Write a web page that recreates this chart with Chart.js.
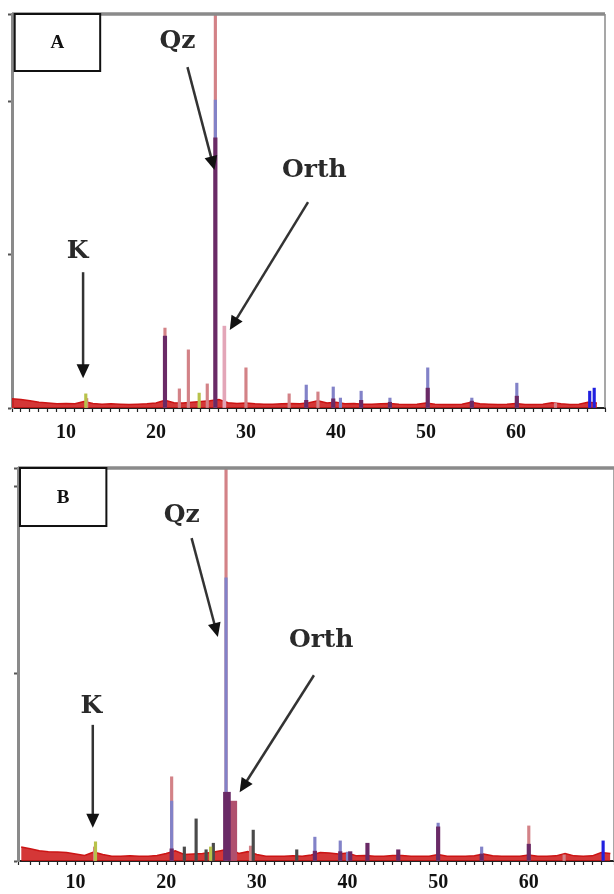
<!DOCTYPE html>
<html>
<head>
<meta charset="utf-8">
<script src="https://cdn.jsdelivr.net/npm/chart.js@4.4.0/dist/chart.umd.min.js"></script>
<style>
body{margin:0;background:#fff;overflow:hidden;width:614px;height:894px;position:relative}
.panel{position:absolute;left:0}
#boxA{top:0}
#boxB{top:450px}
</style>
</head>
<body>
<div class="panel" id="boxA"><canvas id="chartA" width="614" height="445"></canvas></div>
<div class="panel" id="boxB"><canvas id="chartB" width="620" height="444"></canvas></div>
<script>
// ---- panel A : 2-theta (deg) vs intensity ----
var aRedX    = [12.3, 21.0, 22.6, 23.6, 25.7, 26.6, 30.0, 34.8, 38.0, 64.4];
var aRedY    = [2.5, 20.9, 5.0, 15.2, 6.3, 130, 10.5, 3.7, 4.2, 1.2];
var aBlueX   = [26.6, 36.7, 39.7, 40.5, 42.8, 46.0, 50.2, 55.1, 60.1, 68.2, 68.7];
var aBlueY   = [80.5, 6.0, 5.5, 2.6, 4.4, 2.6, 10.5, 2.6, 6.5, 4.4, 5.2];
var aPurpleX = [21.0, 26.6, 36.7, 39.7, 42.8, 46.0, 50.2, 55.1, 60.1];
var aPurpleY = [18.8, 70.6, 2.0, 2.4, 2.0, 1.5, 5.2, 1.8, 3.1];
var aPinkX   = [27.6];
var aPinkY   = [21.4];
var aYellowX = [12.2, 24.8];
var aYellowY = [3.7, 3.9];
var baseX    = [4,5,6,7,8,9,10,11,12,13,14,15,16,17,18,19,20,21,22,23,24,25,26,27,28,29,30,31,32,33,34,35,36,
                37,38,39,40,41,42,43,44,45,46,47,48,49,50,51,52,53,54,55,56,57,58,59,60,61,62,63,64,65,66,67,68,69];
var aBaseY   = [2.4,2.2,1.9,1.5,1.3,1.1,1.2,1.1,1.7,1.2,1.0,1.1,1.0,0.9,1.0,1.1,1.3,2.0,1.4,1.3,1.5,1.7,1.9,2.2,1.4,1.2,1.3,1.1,1.0,1.0,1.1,1.2,1.1,
                1.4,1.9,1.3,1.5,1.1,1.2,1.0,1.0,1.1,1.2,1.0,0.9,1.0,1.3,1.0,0.9,0.9,1.0,1.5,1.1,1.0,0.9,1.0,1.2,0.9,0.9,1.0,1.4,1.1,0.9,1.0,1.5,1.3];

// ---- panel B ----
var bRedX    = [12.1, 20.6, 26.6, 29.3, 60.0, 63.9];
var bRedY    = [3.0, 18.0, 130, 3.2, 7.5, 1.3];
var bBlueX   = [20.6, 26.6, 36.4, 39.2, 40.0, 50.0, 54.8, 68.2];
var bBlueY   = [12.8, 60.5, 5.1, 4.3, 1.9, 8.1, 3.0, 4.3];
var bPurpleX = [20.6, 36.4, 39.2, 40.3, 42.2, 45.6, 50.0, 54.8, 60.0];
var bPurpleY = [2.6, 2.1, 2.0, 2.0, 3.8, 2.4, 7.3, 1.5, 3.6];
var bQzFootX = [26.7];
var bQzFootY = [14.7];
var bOrthX   = [27.4];
var bOrthY   = [12.8];
var bGrayX   = [22.0, 23.3, 24.4, 25.2, 29.6, 34.4];
var bGrayY   = [3.0, 9.0, 2.4, 3.8, 6.6, 2.4];
var bYellowX = [12.2, 24.9];
var bYellowY = [4.1, 3.0];
var bBaseY   = [3.0,2.6,2.2,2.0,1.9,1.8,1.5,1.2,1.9,1.4,1.0,1.0,1.1,1.0,1.0,1.2,1.6,2.2,1.4,1.5,1.6,1.8,2.2,2.6,1.6,2.0,1.4,1.0,1.0,1.0,1.1,1.0,1.3,
                1.8,1.7,1.5,1.7,1.1,1.2,1.0,1.0,1.2,1.2,1.0,1.0,1.0,1.4,1.0,1.0,1.0,1.1,1.5,1.1,1.0,1.0,1.0,1.3,1.0,1.0,1.1,1.6,1.1,1.0,1.1,1.8,1.6];

function pts(xs, ys) {
  return xs.map(function (x, i) { return {x: x, y: ys[i]}; });
}

function peaks(label, xs, ys, color, thick, order) {
  return {type: 'bar', label: label, data: pts(xs, ys), backgroundColor: color,
          barThickness: thick, grouped: false, borderWidth: 0, order: order};
}

function baseline(ys) {
  return {type: 'line', label: 'pattern', data: pts(baseX, ys), borderColor: '#cc1414', borderWidth: 1.5,
          backgroundColor: 'rgba(204,20,20,0.85)', fill: 'origin', pointRadius: 0, tension: 0, order: 9};
}

function deepBlue(ctx) {
  return ctx.raw && ctx.raw.x > 67 ? '#2020e0' : '#8282c8';
}

var notesPlugin = {
  id: 'notes',
  afterDraw: function (chart, args, o) {
    var ctx = chart.ctx, sx = chart.scales.x, sy = chart.scales.y, ca = chart.chartArea;
    function px(v) { return sx.getPixelForValue(v); }
    function py(v) { return sy.getPixelForValue(v); }
    ctx.save();
    // top / right frame
    ctx.strokeStyle = '#8a8a8a';
    ctx.lineWidth = 3.5;
    ctx.beginPath(); ctx.moveTo(ca.left, ca.top); ctx.lineTo(ca.right, ca.top); ctx.stroke();
    ctx.lineWidth = 1.5;
    ctx.beginPath(); ctx.moveTo(ca.right, ca.top); ctx.lineTo(ca.right, ca.bottom); ctx.stroke();

    // panel letter box
    var b = o.box;
    var x0 = px(b.x0), x1 = px(b.x1), y0 = py(b.y1), y1 = py(b.y0);
    ctx.fillStyle = '#fff';
    ctx.fillRect(x0, y0, x1 - x0, y1 - y0);
    ctx.strokeStyle = '#111';
    ctx.lineWidth = 2;
    ctx.strokeRect(x0, y0, x1 - x0, y1 - y0);
    ctx.fillStyle = '#111';
    ctx.font = 'bold 19px "Liberation Serif"';
    ctx.textAlign = 'center';
    ctx.textBaseline = 'middle';
    ctx.fillText(b.text, (x0 + x1) / 2, (y0 + y1) / 2 + 1);

    // labels + arrows
    ctx.font = 'bold 25px "DejaVu Serif"';
    ctx.fillStyle = '#2a2a2a';
    o.labels.forEach(function (l) {
      ctx.fillText(l.text, px(l.x), py(l.y));
      var ax = px(l.from[0]), ay = py(l.from[1]), bx = px(l.to[0]), by = py(l.to[1]);
      var ang = Math.atan2(by - ay, bx - ax);
      ctx.strokeStyle = '#333';
      ctx.lineWidth = 2.5;
      ctx.beginPath(); ctx.moveTo(ax, ay);
      ctx.lineTo(bx - 10 * Math.cos(ang), by - 10 * Math.sin(ang)); ctx.stroke();
      ctx.fillStyle = '#111';
      ctx.beginPath();
      ctx.moveTo(bx, by);
      ctx.lineTo(bx - 14 * Math.cos(ang) + 6.5 * Math.sin(ang), by - 14 * Math.sin(ang) - 6.5 * Math.cos(ang));
      ctx.lineTo(bx - 14 * Math.cos(ang) - 6.5 * Math.sin(ang), by - 14 * Math.sin(ang) + 6.5 * Math.cos(ang));
      ctx.closePath(); ctx.fill();
      ctx.fillStyle = '#2a2a2a';
    });
    ctx.restore();
  }
};

function makeChart(id, datasets, xmin, xmax, ymax, pad, axisH, tickPad, notes) {
  return new Chart(document.getElementById(id), {
    type: 'bar',
    data: {datasets: datasets},
    options: {
      responsive: false,
      animation: false,
      layout: {padding: pad},
      plugins: {legend: {display: false}, tooltip: {enabled: false}, notes: notes},
      scales: {
        x: {
          type: 'linear', min: xmin, max: xmax, offset: false,
          grid: {drawOnChartArea: false, offset: false, tickLength: 4, color: '#222', tickWidth: 1.2},
          border: {color: '#222', width: 2},
          ticks: {
            stepSize: 1, autoSkip: false, maxRotation: 0, padding: tickPad, color: '#111',
            font: {family: 'Liberation Serif', weight: 'bold', size: 20},
            callback: function (v) { return Math.abs(v % 10) < 1e-6 ? String(v) : ''; }
          },
          afterFit: function (s) { s.height = axisH; }
        },
        y: {
          min: 0, max: ymax,
          grid: {drawOnChartArea: false, tickLength: 4, color: '#555', tickWidth: 2},
          border: {color: '#8a8a8a', width: 3},
          ticks: {display: false, stepSize: 40},
          afterFit: function (s) { s.width = 0; }
        }
      }
    },
    plugins: [notesPlugin]
  });
}

makeChart('chartA', [
  peaks('purple', aPurpleX, aPurpleY, '#6a2a66', 3.5, 1),
  peaks('blue', aBlueX, aBlueY, deepBlue, 2.5, 2),
  peaks('yellow', aYellowX, aYellowY, '#b8c24a', 2.5, 3),
  peaks('pink', aPinkX, aPinkY, '#e3a6b8', 3, 4),
  peaks('red', aRedX, aRedY, '#d38287', 2.5, 5),
  baseline(aBaseY)
], 4, 69.9, 103, {left: 12, top: 14, right: 1, bottom: 0}, 37, 9, {
  box: {x0: 4.3, x1: 13.8, y0: 88.1, y1: 103, text: 'A'},
  labels: [
    {text: 'Qz', x: 22.4, y: 95.7, from: [23.5, 89.1], to: [26.5, 62.2]},
    {text: 'Orth', x: 37.6, y: 62.2, from: [36.9, 53.8], to: [28.2, 20.4]},
    {text: 'K', x: 11.3, y: 40.8, from: [11.9, 35.5], to: [11.9, 7.8]}
  ]
});

makeChart('chartB', [
  peaks('purple', bPurpleX, bPurpleY, '#6a2a66', 3.5, 1),
  peaks('qz-foot', bQzFootX, bQzFootY, '#6a2a66', 7, 1),
  peaks('blue', bBlueX, bBlueY, deepBlue, 2.5, 2),
  peaks('yellow', bYellowX, bYellowY, '#b8c24a', 2.5, 3),
  peaks('gray', bGrayX, bGrayY, '#4a4a4a', 2.5, 3),
  peaks('orth', bOrthX, bOrthY, '#b0506e', 7, 4),
  peaks('red', bRedX, bRedY, '#d38287', 2.5, 5),
  baseline(bBaseY)
], 3.65, 69.4, 84, {left: 18, top: 18, right: 2, bottom: 0}, 33, 6, {
  box: {x0: 3.87, x1: 13.4, y0: 71.6, y1: 84, text: 'B'},
  labels: [
    {text: 'Qz', x: 21.7, y: 73.9, from: [22.8, 69.0], to: [25.7, 47.9]},
    {text: 'Orth', x: 37.1, y: 47.2, from: [36.3, 39.7], to: [28.1, 14.7]},
    {text: 'K', x: 11.75, y: 33.1, from: [11.9, 29.1], to: [11.9, 7.1]}
  ]
});
</script>
</body>
</html>
